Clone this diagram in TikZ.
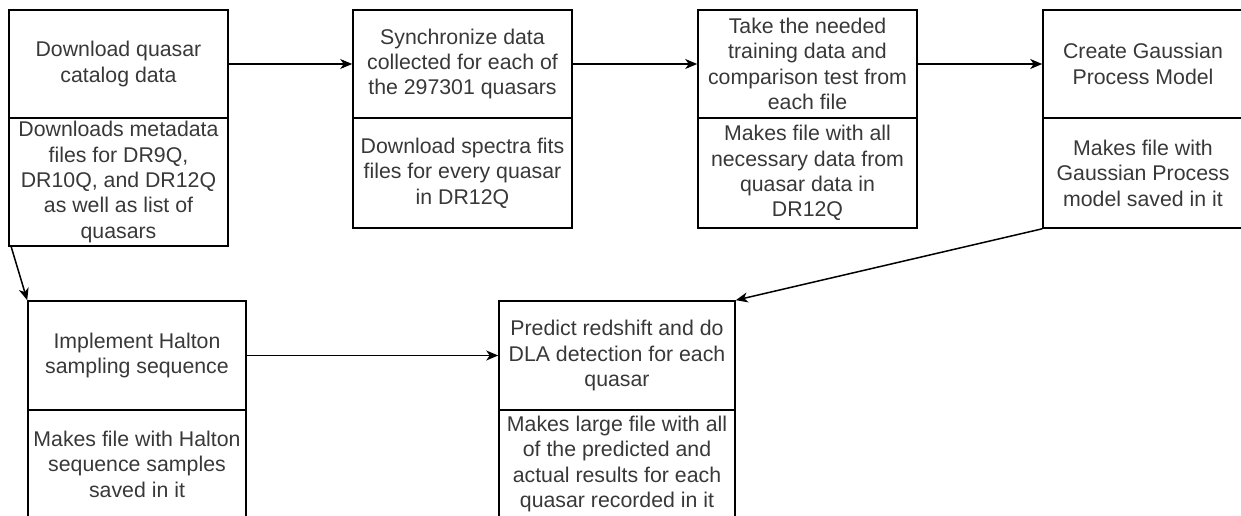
\documentclass[tikz,border=0pt]{standalone}
\usepackage{fontspec}
\setmainfont{Liberation Sans}
\usetikzlibrary{arrows.meta}
\definecolor{txt}{HTML}{383838}
\begin{document}
\begin{tikzpicture}[x=1pt,y=-1pt,
  cell/.style={draw=black, line width=1.6pt, inner sep=0pt, align=center, text=txt,
    font=\fontsize{21.3}{25.4}\selectfont},
  conn/.style={-{Stealth[length=12pt,width=10pt,inset=3.5pt]}, line width=1.5pt}]
\useasboundingbox (0,0) rectangle (1241,516);
% box 1
\node[cell, minimum width=219pt, minimum height=108pt] (b1t) at (118.5,64) {Download quasar\\catalog data};
\node[cell, minimum width=219pt, minimum height=128pt] (b1b) at (118.5,182) {Downloads metadata\\files for DR9Q,\\DR10Q, and DR12Q\\as well as list of\\quasars};
% box 2
\node[cell, minimum width=219pt, minimum height=108pt] (b2t) at (462.5,64) {Synchronize data\\collected for each of\\the 297301 quasars};
\node[cell, minimum width=219pt, minimum height=110pt] (b2b) at (462.5,173) {Download spectra fits\\files for every quasar\\in DR12Q};
% box 3
\node[cell, minimum width=219pt, minimum height=108pt] (b3t) at (807.5,64) {Take the needed\\training data and\\comparison test from\\each file};
\node[cell, minimum width=219pt, minimum height=110pt] (b3b) at (807.5,173) {Makes file with all\\necessary data from\\quasar data in\\DR12Q};
% box 4
\node[cell, minimum width=200pt, minimum height=108pt] (b4t) at (1143,64) {Create Gaussian\\Process Model};
\node[cell, minimum width=200pt, minimum height=110pt] (b4b) at (1143,173) {Makes file with\\Gaussian Process\\model saved in it};
% box 5
\node[cell, minimum width=218pt, minimum height=109pt] (b5t) at (137,355.5) {Implement Halton\\sampling sequence};
\node[cell, minimum width=218pt, minimum height=108pt] (b5b) at (137,464) {Makes file with Halton\\sequence samples\\saved in it};
% box 6
\node[cell, minimum width=236pt, minimum height=109pt] (b6t) at (617,355.5) {Predict redshift and do\\DLA detection for each\\quasar};
\node[cell, minimum width=236pt, minimum height=108pt] (b6b) at (617,464) {Makes large file with all\\of the predicted and\\actual results for each\\quasar recorded in it};
% connectors
\draw[conn] (b1t.east) -- (b2t.west);
\draw[conn] (b2t.east) -- (b3t.west);
\draw[conn] (b3t.east) -- (b4t.west);
\draw[conn] ([xshift=3pt]b1b.south west) -- (b5t.north west);
\draw[conn] (b4b.south west) -- (b6t.north east);
\draw[conn] (b5t.east) -- (b6t.west);
\end{tikzpicture}
\end{document}
